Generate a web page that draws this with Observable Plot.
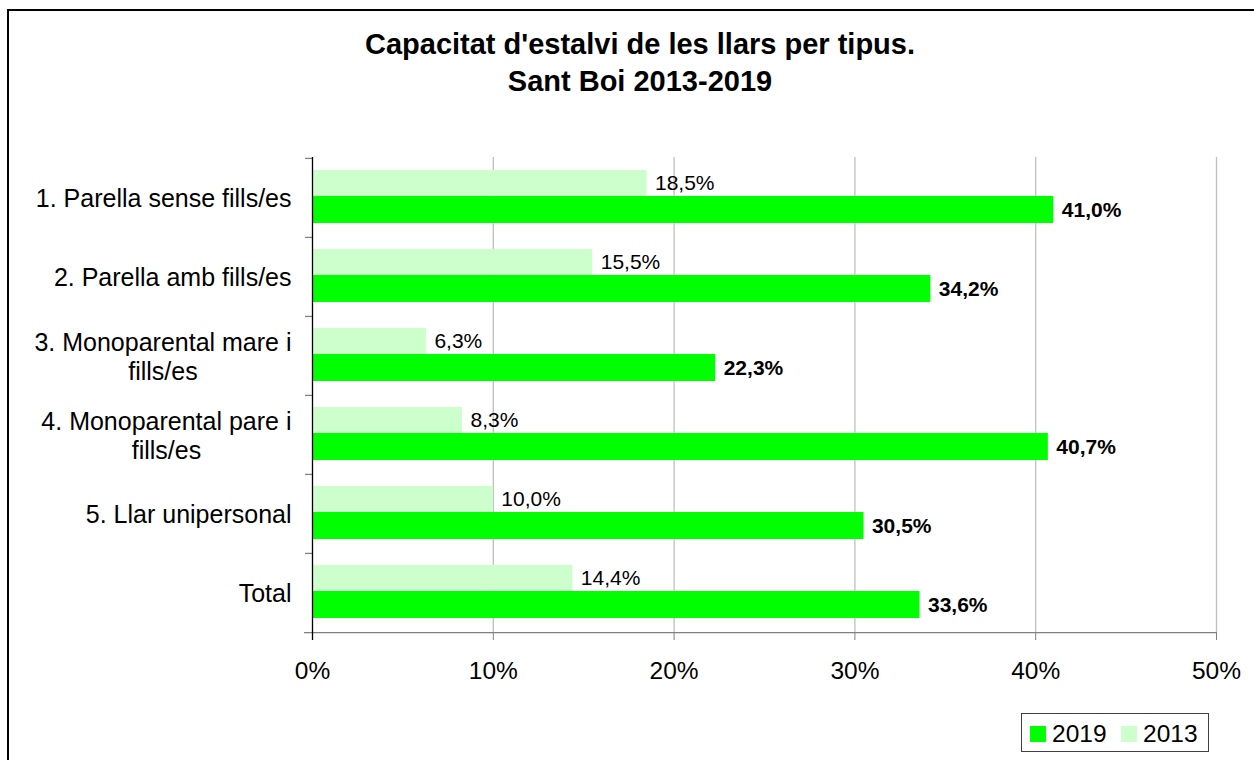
<!DOCTYPE html>
<html>
<head>
<meta charset="utf-8">
<script src="https://cdn.jsdelivr.net/npm/d3@7"></script>
<script src="https://cdn.jsdelivr.net/npm/@observablehq/plot@0.6"></script>
<style>
  html, body { margin: 0; padding: 0; background: #fff; overflow: hidden; }
  #wrap { position: relative; width: 1254px; height: 760px; font-family: "Liberation Sans", Arial, sans-serif; color: #000; }
  #border { position: absolute; left: 7px; top: 9px; width: 1300px; height: 800px; border-left: 2px solid #000; border-top: 2px solid #000; pointer-events: none; }
  #title { position: absolute; left: 0; top: 26px; width: 1280px; text-align: center; font-weight: bold; font-size: 29px; line-height: 37px; }
  #legend { position: absolute; left: 1021px; top: 713px; width: 188px; height: 39px; box-sizing: border-box; border: 1px solid #404040; background: #fff; font-size: 24.5px; }
  .sw { position: absolute; top: 12px; width: 16px; height: 16px; }
  .lt { position: absolute; top: 6px; line-height: 28px; }
  #chart { position: absolute; left: 0; top: 0; }
</style>
</head>
<body>
<div id="wrap">
  <div id="chart"></div>
  <div id="title"></div>
  <div id="legend"></div>
  <div id="border"></div>
</div>
<script>
const titleLines = ["Capacitat d'estalvi de les llars per tipus.", "Sant Boi 2013-2019"];
const categories = [
  "1. Parella sense fills/es",
  "2. Parella amb fills/es",
  "3. Monoparental mare i\nfills/es",
  "4. Monoparental pare i\nfills/es",
  "5. Llar unipersonal",
  "Total"
];
const series = ["2019", "2013"];
const values2013 = [18.5, 15.5, 6.3, 8.3, 10.0, 14.4];
const values2019 = [41.0, 34.2, 22.3, 40.7, 30.5, 33.6];
const xTicks = [0, 10, 20, 30, 40, 50];
const colors = {"2019": "#00ff00", "2013": "#ccffcc"};

const W = 1254, H = 760, mL = 312, mR = 38, mT = 157, mB = 128;
const frameW = W - mL - mR;
const bw = (H - mT - mB) / categories.length;
const font = '"Liberation Sans", Arial, sans-serif';

const d2013 = categories.map((c, i) => ({cat: c, value: values2013[i]}));
const d2019 = categories.map((c, i) => ({cat: c, value: values2019[i]}));
const fmt = v => v.toFixed(1).replace(".", ",") + "%";

const canvas = document.createElement("canvas");
const ctx = canvas.getContext("2d");
ctx.font = "25px " + font;
const labelMarks = categories.map(c => {
  const w = d3.max(c.split("\n"), s => ctx.measureText(s).width);
  return Plot.text([c], {
    y: d => d, text: d => d, frameAnchor: "left", textAnchor: "middle",
    dx: -(21 + w / 2), fontSize: 25, lineHeight: 1.15, fill: "#000"
  });
});

const plot = Plot.plot({
  width: W, height: H,
  marginLeft: mL, marginRight: mR, marginTop: mT, marginBottom: mB,
  style: {fontFamily: font, background: "transparent", color: "#000"},
  x: {domain: [0, 50], label: null},
  y: {domain: categories, type: "band", padding: 0, axis: null, label: null},
  marks: [
    Plot.ruleX(xTicks.slice(1), {x: d => d, stroke: "#bfbfbf", strokeWidth: 1.3}),
    Plot.barX(d2013, {x: "value", y: "cat", fill: colors["2013"], insetTop: 12, insetBottom: bw - 38}),
    Plot.barX(d2019, {x: "value", y: "cat", fill: colors["2019"], insetTop: 38, insetBottom: 14}),
    Plot.text(d2013, {x: "value", y: "cat", text: d => fmt(d.value), textAnchor: "start", dx: 8, dy: -14.6, fontSize: 21, fill: "#000"}),
    Plot.text(d2019, {x: "value", y: "cat", text: d => fmt(d.value), textAnchor: "start", dx: 8, dy: 12, fontSize: 21, fontWeight: "bold", fill: "#000"}),
    Plot.axisX({ticks: xTicks, tickFormat: d => d + "%", tickSize: 8, tickPadding: 21, fontSize: 24.5, stroke: "#808080", fill: "#000", label: null}),
    Plot.ruleY(categories, {y: d => d, dy: -bw / 2, insetLeft: -7, insetRight: frameW, stroke: "#808080", strokeWidth: 1.3}),
    Plot.ruleY([categories[categories.length - 1]], {y: d => d, dy: bw / 2, insetLeft: -8, stroke: "#808080", strokeWidth: 1.3}),
    Plot.ruleX([0], {x: d => d, stroke: "#000", strokeWidth: 1.3, insetBottom: -8}),
    ...labelMarks
  ]
});
document.getElementById("chart").appendChild(plot);

const t = document.getElementById("title");
titleLines.forEach(s => { const d = document.createElement("div"); d.textContent = s; t.appendChild(d); });

const lg = document.getElementById("legend");
const pos = [{sw: 8, tx: 30}, {sw: 99, tx: 121}];
series.forEach((s, i) => {
  const sw = document.createElement("div");
  sw.className = "sw"; sw.style.left = pos[i].sw + "px"; sw.style.background = colors[s];
  const tx = document.createElement("div");
  tx.className = "lt"; tx.style.left = pos[i].tx + "px"; tx.textContent = s;
  lg.appendChild(sw); lg.appendChild(tx);
});
</script>
</body>
</html>
